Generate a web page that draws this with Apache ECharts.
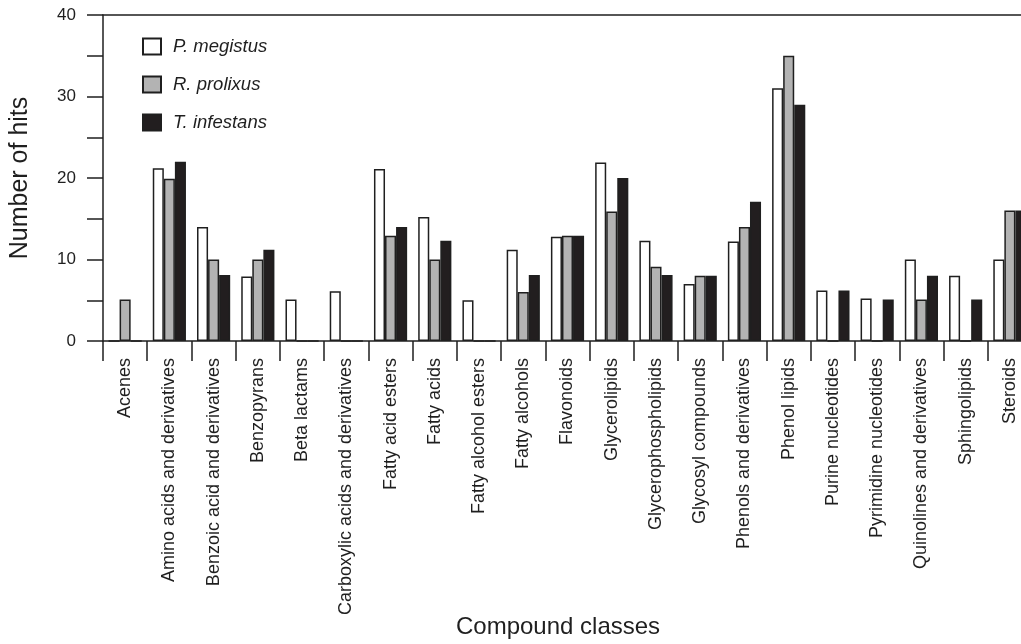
<!DOCTYPE html>
<html>
<head>
<meta charset="utf-8">
<script src="https://cdn.jsdelivr.net/npm/echarts@6/dist/echarts.min.js"></script>
<style>
html,body{margin:0;padding:0;background:#fff;overflow:hidden;}
#chart{width:1021px;height:644px;}
</style>
</head>
<body>
<div id="chart"></div>
<script>
const categories = ["Acenes","Amino acids and derivatives","Benzoic acid and derivatives","Benzopyrans","Beta lactams","Carboxylic acids and derivatives","Fatty acid esters","Fatty acids","Fatty alcohol esters","Fatty alcohols","Flavonoids","Glycerolipids","Glycerophospholipids","Glycosyl compounds","Phenols and derivatives","Phenol lipids","Purine nucleotides","Pyrimidine nucleotides","Quinolines and derivatives","Sphingolipids","Steroids"];
const seriesNames = ["P. megistus","R. prolixus","T. infestans"];
const pMegistus  = [0, 21.2, 14, 7.9, 5.1, 6.1, 21.1, 15.2, 5, 11.2, 12.8, 21.9, 12.3, 7, 12.2, 31, 6.2, 5.2, 10, 8, 10];
const rProlixus  = [5.1, 19.9, 10, 10, 0, 0, 12.9, 10, 0, 6, 12.9, 15.9, 9.1, 8, 14, 35, 0, 0, 5.1, 0, 16];
const tInfestans = [0, 22, 8.1, 11.2, 0, 0, 14, 12.3, 0, 8.1, 12.9, 20, 8.1, 8, 17.1, 29, 6.2, 5.1, 8, 5.1, 16];
const yTickLabels = ["0","10","20","30","40"];
const xAxisTitle = "Compound classes";
const yAxisTitle = "Number of hits";

const FONT = "'Liberation Sans', Arial, Helvetica, sans-serif";
const INK = "#1f1f1f";
const fills = ["#ffffff", "#b3b3b3", "#221e1f"];
const values = [pMegistus, rProlixus, tInfestans];

const chart = echarts.init(document.getElementById('chart'), null, {renderer: 'canvas'});
chart.setOption({
  backgroundColor: '#ffffff',
  animation: false,
  textStyle: {fontFamily: FONT},
  title: {
    text: xAxisTitle,
    left: 456, top: 615, padding: 0,
    textStyle: {fontSize: 24, fontWeight: 'normal', color: INK, fontFamily: FONT}
  },
  grid: {left: 103, top: 15, width: 929, height: 326, containLabel: false, outerBoundsMode: 'none'},
  legend: {
    orient: 'vertical', left: 137, top: 32,
    itemWidth: 18, itemHeight: 16, itemGap: 19,
    icon: 'rect',
    textStyle: {fontFamily: FONT, fontSize: 18.5, fontStyle: 'italic', color: INK, padding: [0, 0, 0, 7]},
    data: seriesNames
  },
  xAxis: [{
    type: 'category',
    data: categories,
    position: 'bottom',
    axisLine: {show: true, lineStyle: {color: INK, width: 1.5}},
    axisTick: {show: true, inside: false, length: 20, alignWithLabel: false, interval: 0, lineStyle: {color: INK, width: 1.5}},
    axisLabel: {interval: 0, rotate: 90, margin: 17, fontSize: 18, color: INK, fontFamily: FONT}
  }, {
    type: 'category',
    data: categories,
    position: 'top',
    axisLine: {show: true, lineStyle: {color: INK, width: 1.5}},
    axisTick: {show: false},
    axisLabel: {show: false}
  }],
  yAxis: {
    type: 'value',
    min: 0, max: 40, interval: 5,
    axisLine: {show: true, lineStyle: {color: INK, width: 1.5}},
    axisTick: {show: true, inside: false, length: 16, lineStyle: {color: INK, width: 1.5}},
    axisLabel: {
      margin: 27, fontSize: 17, color: INK, fontFamily: FONT,
      formatter: v => (yTickLabels.indexOf(String(v)) >= 0 ? String(v) : '')
    },
    splitLine: {show: false},
    name: yAxisTitle,
    nameLocation: 'middle',
    nameGap: 70,
    nameTextStyle: {fontSize: 25, color: INK, fontFamily: FONT}
  },
  series: seriesNames.map((n, i) => ({
    name: n,
    type: 'bar',
    xAxisIndex: 0,
    data: values[i],
    barGap: '0%',
    barCategoryGap: '25%',
    itemStyle: {color: fills[i], borderColor: INK, borderWidth: 1.5}
  }))
});
</script>
</body>
</html>
